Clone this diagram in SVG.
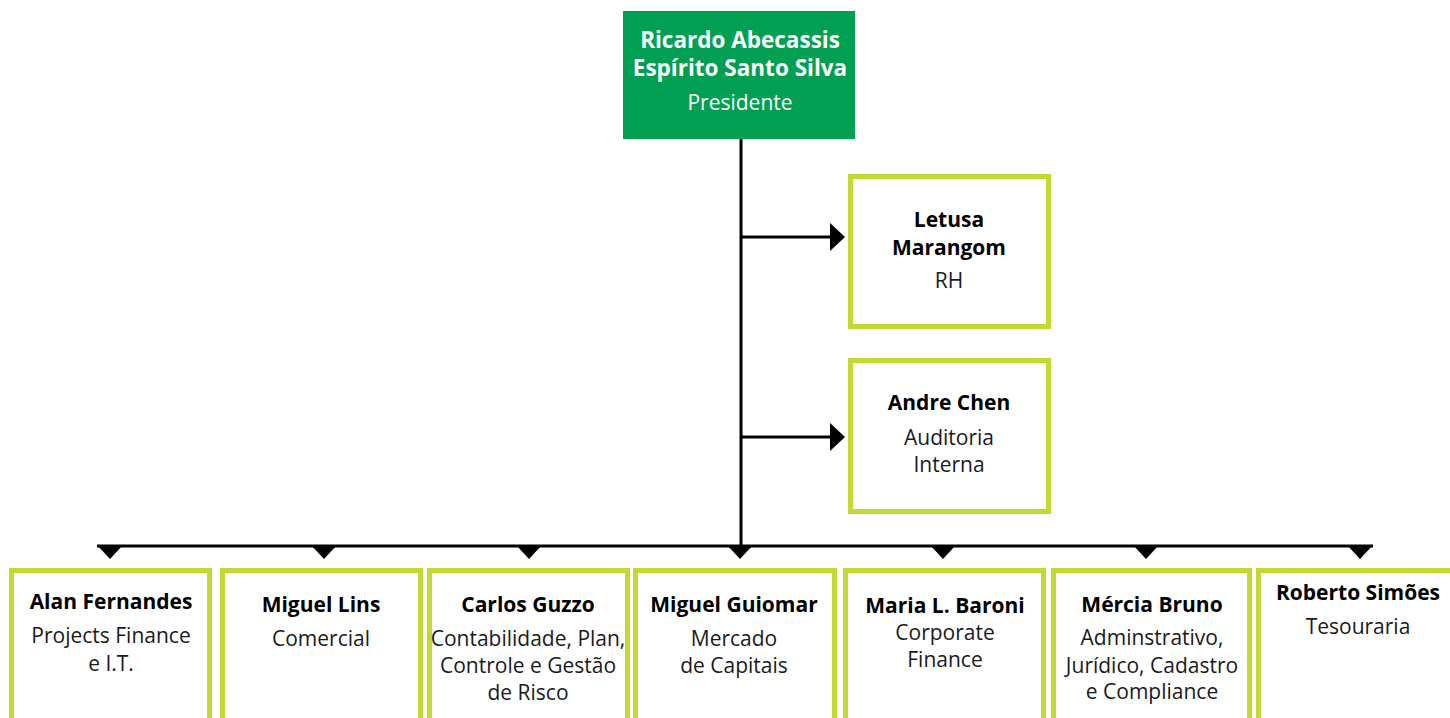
<svg xmlns="http://www.w3.org/2000/svg" width="1450" height="718" viewBox="0 0 1450 718">
  <defs>
    <style>
      .box { fill: #ffffff; stroke: #C4D835; stroke-width: 5; }
      .top { fill: #009F52; }
      text { font-family: "Open Sans", "Noto Sans", sans-serif; text-anchor: middle; font-size: 21px; fill: #1a1a1a; }
      .b { font-weight: bold; font-size: 21px; fill: #000; }
      .w { fill: #ffffff; }
      .tb { font-size: 22.5px; }
      .line { stroke: #000; stroke-width: 3; fill: none; }
      .head { fill: #000; }
    </style>
  </defs>
  <rect width="1450" height="718" fill="#ffffff"/>

  <g id="connectors">
    <line class="line" x1="741" y1="139" x2="741" y2="547"/>
    <line class="line" x1="97" y1="546" x2="1373" y2="546"/>
    <line class="line" x1="741" y1="237" x2="832" y2="237"/>
    <polygon class="head" points="830,223 845,237 830,251"/>
    <line class="line" x1="741" y1="437" x2="832" y2="437"/>
    <polygon class="head" points="830,423 845,437 830,451"/>
    <polygon class="head" points="97,545 123,545 110,559"/>
    <polygon class="head" points="311,545 337,545 324,559"/>
    <polygon class="head" points="516,545 542,545 529,559"/>
    <polygon class="head" points="727,545 753,545 740,559"/>
    <polygon class="head" points="930,545 956,545 943,559"/>
    <polygon class="head" points="1133,545 1159,545 1146,559"/>
    <polygon class="head" points="1347,545 1373,545 1360,559"/>
  </g>

  <g id="president">
    <rect class="top" x="623" y="11" width="232" height="128"/>
    <text class="b w tb" x="740" y="48">Ricardo Abecassis</text>
    <text class="b w tb" x="740" y="76">Espírito Santo Silva</text>
    <text class="w" x="740" y="110">Presidente</text>
  </g>

  <g id="letusa">
    <rect class="box" x="850.5" y="176.5" width="198" height="150"/>
    <text class="b" x="949" y="227">Letusa</text>
    <text class="b" x="949" y="255">Marangom</text>
    <text x="949" y="288">RH</text>
  </g>

  <g id="andre">
    <rect class="box" x="850.5" y="360.5" width="198" height="151"/>
    <text class="b" x="949" y="410">Andre Chen</text>
    <text x="949" y="445">Auditoria</text>
    <text x="949" y="472">Interna</text>
  </g>

  <g id="alan">
    <rect class="box" x="11.5" y="570.5" width="198" height="170"/>
    <text class="b" x="111" y="609">Alan Fernandes</text>
    <text x="111" y="643">Projects Finance</text>
    <text x="111" y="671">e I.T.</text>
  </g>

  <g id="miguel-lins">
    <rect class="box" x="222.5" y="570.5" width="198" height="170"/>
    <text class="b" x="321" y="612">Miguel Lins</text>
    <text x="321" y="646">Comercial</text>
  </g>

  <g id="carlos">
    <rect class="box" x="429.5" y="570.5" width="198" height="170"/>
    <text class="b" x="528" y="612">Carlos Guzzo</text>
    <text x="528" y="646">Contabilidade, Plan,</text>
    <text x="528" y="673">Controle e Gestão</text>
    <text x="528" y="700">de Risco</text>
  </g>

  <g id="miguel-guiomar">
    <rect class="box" x="635.5" y="570.5" width="199" height="170"/>
    <text class="b" x="734" y="612">Miguel Guiomar</text>
    <text x="734" y="646">Mercado</text>
    <text x="734" y="673">de Capitais</text>
  </g>

  <g id="maria">
    <rect class="box" x="845.5" y="570.5" width="198" height="170"/>
    <text class="b" x="945" y="613">Maria L. Baroni</text>
    <text x="945" y="640">Corporate</text>
    <text x="945" y="667">Finance</text>
  </g>

  <g id="mercia">
    <rect class="box" x="1053.5" y="570.5" width="196" height="170"/>
    <text class="b" x="1152" y="612">Mércia Bruno</text>
    <text x="1152" y="645">Adminstrativo,</text>
    <text x="1152" y="673">Jurídico, Cadastro</text>
    <text x="1152" y="699">e Compliance</text>
  </g>

  <g id="roberto">
    <rect class="box" x="1258.5" y="570.5" width="198" height="170"/>
    <text class="b" x="1358" y="600">Roberto Simões</text>
    <text x="1358" y="634">Tesouraria</text>
  </g>
</svg>
